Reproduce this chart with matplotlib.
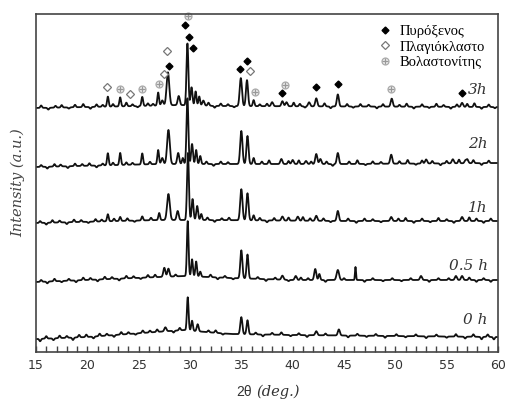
import numpy as np
import matplotlib
matplotlib.use("Agg")
import matplotlib.pyplot as plt
from matplotlib.ticker import MultipleLocator
from matplotlib.lines import Line2D

# XRD patterns, y in pixel-like units (offset stacked)
labels = ["0 h", "0.5 h", "1h", "2h", "3h"]

# background anchors (2theta, level)
base_0h = ([15, 20, 28, 29.5, 31.5, 34, 40, 60], [13, 15, 21, 22, 20, 18, 17, 15])
base_05h = ([15, 27, 29.5, 34, 40, 60], [70, 75, 76, 74, 72, 72])
base_1h = ([15, 27, 32, 45, 60], [129, 132, 132, 131, 131])
base_2h = ([15, 27, 33, 45, 60], [185, 188, 188, 188, 189])
base_3h = ([15, 25, 29, 33, 60], [244, 246, 247, 246, 245])

# peaks (position, height, width)
peaks_0h = [(27.6, 4, .1), (29.78, 33, .08), (30.2, 10, .08), (30.75, 7, .09), (35.0, 17, .1),
            (35.6, 14, .09), (42.3, 4, .1), (44.5, 6, .1)]
peaks_05h = [(27.5, 9, .1), (27.9, 8, .1), (29.78, 55, .08), (30.2, 17, .08), (30.6, 15, .08),
             (31.0, 5, .08), (35.0, 28, .1), (35.6, 24, .09), (39.0, 4, .1), (40.3, 4, .1),
             (42.2, 11, .1), (42.6, 6, .08), (44.4, 10, .12), (46.12, 13, .05), (52.5, 4, .1),
             (55.9, 4, .1), (56.5, 4, .1)]
peaks_1h = [(22.0, 7, .08), (23.2, 4, .08), (25.35, 4, .08), (27.0, 7, .08), (27.9, 26, .13),
            (28.8, 9, .1), (29.8, 67, .09), (30.25, 21, .09), (30.7, 14, .09), (31.1, 6, .08),
            (35.0, 31, .11), (35.6, 27, .1), (36.2, 5, .08), (39.0, 4, .1), (40.5, 4, .1),
            (42.3, 5, .1), (44.4, 10, .1), (49.6, 4, .1), (56.5, 4, .1)]
peaks_2h = [(22.0, 12, .08), (23.2, 12, .08), (25.35, 11, .08), (26.9, 14, .08), (27.3, 6, .1),
            (27.9, 34, .13), (28.85, 11, .1), (29.3, 6, .08), (29.75, 66, .09), (30.2, 20, .09),
            (30.6, 14, .08), (31.0, 8, .08), (35.0, 33, .11), (35.6, 28, .1), (36.2, 6, .08),
            (38.9, 5, .1), (40.0, 4, .1), (41.3, 3, .1), (42.3, 10, .1), (42.7, 5, .1),
            (44.4, 11, .1), (49.6, 9, .1), (53.0, 4, .1), (55.6, 4, .1), (57.0, 4, .1)]
peaks_3h = [(22.0, 10, .08), (23.2, 9, .08), (25.35, 9, .08), (26.9, 13, .08), (27.3, 5, .1),
            (27.85, 33, .13), (28.9, 9, .1), (29.75, 62, .09), (30.15, 18, .09), (30.55, 14, .08),
            (30.9, 9, .08), (31.3, 5, .1), (34.95, 28, .11), (35.55, 26, .1), (36.2, 6, .08),
            (38.0, 4, .1), (39.0, 5, .1), (39.4, 4, .1), (41.6, 4, .1), (42.3, 8, .1),
            (44.4, 12, .1), (49.65, 8, .1), (56.5, 4, .1)]

# small wiggles of the background (position, amplitude)
bumps_0h = [(15.4, -2), (16.0, 2), (16.7, -1.5), (17.3, 2), (18.0, 1.5), (18.6, -2), (19.2, 2),
            (19.9, 2), (20.6, -1.5), (21.2, 2), (21.9, 1.5), (22.6, -1.5), (23.3, 2), (24.0, 1.5),
            (24.7, -1), (25.4, 2), (26.1, 1.5), (26.8, 2), (28.4, -1.5), (29.0, 2), (31.8, 1.5),
            (32.5, 2), (33.2, -1), (36.4, 1.5), (37.1, -1.5), (38.0, 1.5), (38.9, 2), (39.8, -1),
            (40.6, 1.5), (41.4, -1.5), (43.2, 1.5), (45.4, -1.5), (46.3, 1.5), (47.2, -1),
            (48.1, 1.5), (49.0, -1.5), (50.1, 1.5), (51.0, -1), (52.0, 1.5), (53.0, -1.5),
            (54.0, 1.5), (55.0, -1), (55.9, 2), (56.8, -1.5), (57.6, 2), (58.4, -2), (59.0, 2),
            (59.6, -2)]
bumps_05h = [(15.5, 1.5), (16.1, -1.5), (16.8, 2), (17.5, -1), (18.2, 1.5), (18.9, -1.5),
             (19.6, 2), (20.3, 1.5), (21.0, -1.5), (21.7, 2), (22.4, 1.5), (23.1, -1.5),
             (23.8, 2), (24.5, 1.5), (25.2, -1), (25.9, 2), (26.6, 2), (28.6, 1.5), (32.0, 2),
             (32.7, -1.5), (33.4, 1.5), (34.2, -1), (36.6, 1.5), (37.4, -1.5), (38.3, 1.5),
             (39.6, -1), (40.8, 2), (41.5, 1.5), (43.2, -1.5), (45.0, 1.5), (47.0, -1.5),
             (47.8, 1.5), (48.8, -1), (49.7, 1.5), (50.6, -1), (51.5, 1.5), (53.3, -1.5),
             (54.2, 1.5), (55.2, 1.5), (57.2, 2), (57.9, -1.5), (58.6, 1.5), (59.3, -1.5)]
bumps_1h = [(15.4, 1.5), (16.0, -1.5), (16.6, 2), (17.3, 1.5), (18.0, -1.5), (18.7, 2),
            (19.4, 1.5), (20.1, -1), (20.8, 2), (21.4, 1.5), (22.6, 2), (23.9, 2), (24.6, -1),
            (26.2, 2), (31.7, 2), (32.4, -1.5), (33.1, 1.5), (33.8, 2), (36.8, 2), (37.5, -1.5),
            (38.2, 2), (39.6, 2.5), (41.0, 3), (41.7, 2), (43.0, 2), (43.7, -1), (45.4, 2),
            (46.2, -1.5), (47.0, 2), (47.8, 1.5), (48.6, -1), (50.3, 2), (51.0, 2.5), (51.8, -1.5),
            (52.6, 2), (53.4, -1), (54.2, 2.5), (55.0, 1.5), (55.7, -1.5), (57.2, 3), (57.9, 2),
            (58.6, -1.5), (59.3, 2)]
bumps_2h = [(15.5, 1.5), (16.1, -1.5), (16.8, 2), (17.4, 1.5), (18.1, -1.5), (18.8, 2),
            (19.5, 1.5), (20.2, 2), (20.9, -1.5), (21.5, 1.5), (22.5, 2), (23.8, 2), (24.4, 1.5),
            (26.1, 2), (31.6, 2), (32.3, -1.5), (33.0, 2), (33.7, 1.5), (37.0, 2), (37.7, 3),
            (39.6, 2.5), (40.6, 3), (41.8, 2), (43.3, 2), (43.9, -1.5), (45.5, 2), (46.3, 3),
            (47.1, -1), (47.8, 2), (48.6, 1.5), (50.4, 2), (51.2, 3), (52.0, -1), (52.6, 2.5),
            (53.6, 2), (54.4, -1.5), (55.0, 2), (56.2, 3), (56.8, 2), (57.6, 2.5), (58.4, -1.5),
            (59.1, 2)]
bumps_3h = [(15.5, 2), (16.2, -1.5), (16.9, 1.5), (17.5, 2), (18.2, -1), (18.8, 2), (19.6, 2.5),
            (20.3, -1.5), (20.9, 2), (21.5, 1.5), (22.5, 2), (23.8, 3), (24.4, 1.5), (24.9, -1),
            (25.9, 2), (26.4, 1.5), (31.8, 2.5), (32.4, -1.5), (33.0, 2), (33.7, 1.5), (34.3, -1),
            (36.8, 1.5), (37.5, 2), (40.1, 3), (40.7, 2), (41.2, -1), (43.1, 2.5), (43.7, -1.5),
            (45.3, 2), (45.9, -1), (46.6, 2), (47.4, 1.5), (48.2, -1.5), (48.8, 2), (50.4, 1.5),
            (51.1, 2.5), (51.8, -1.5), (52.6, 2), (53.3, -1), (54.0, 2.5), (54.7, 1.5),
            (55.4, -1.5), (56.0, 2), (57.0, 2.5), (57.7, 3), (58.4, -1.5), (59.1, 2), (59.7, -1)]

# phase markers on the 3h pattern (2theta, level)
pyroxene = [(27.95, 286), (29.55, 327), (29.93, 315), (30.3, 304), (34.87, 283), (35.52, 291),
            (39.0, 259), (42.27, 265), (44.38, 268), (56.46, 259)]
plagioclase = [(21.95, 265), (24.2, 258), (27.5, 278), (27.8, 301), (35.87, 281)]
wollastonite = [(23.2, 263), (25.3, 263), (26.95, 268), (29.83, 336), (36.3, 260),
                (39.28, 267), (49.58, 263)]
legend_labels = ["Πυρόξενος", "Πλαγιόκλαστο", "Βολαστονίτης"]

# curve label positions (2theta, level)
label_pos = [(59.0, 32), (59.0, 86), (59.0, 144), (59.0, 208), (59.0, 262)]

x = np.arange(15, 60.0001, 0.02)


def pattern(base, peaks, bumps):
    y = np.interp(x, base[0], base[1])
    for p, h, w in peaks:
        y = y + h * np.exp(-0.5 * ((x - p) / w) ** 2)
    for p, h in bumps:
        y = y + 1.2 * h * np.exp(-0.5 * ((x - p) / 0.08) ** 2)
    return y


bases = [base_0h, base_05h, base_1h, base_2h, base_3h]
peak_sets = [peaks_0h, peaks_05h, peaks_1h, peaks_2h, peaks_3h]
bump_sets = [bumps_0h, bumps_05h, bumps_1h, bumps_2h, bumps_3h]

fig = plt.figure(figsize=(5.05, 4.04), dpi=100)
ax = fig.add_axes([36 / 505, 1 - 352 / 404, 462 / 505, 338 / 404])

for b, pk, bm in zip(bases, peak_sets, bump_sets):
    ax.plot(x, pattern(b, pk, bm), color="#111111", lw=1.3)

for (lx, ly), lab in zip(label_pos, labels):
    ax.text(lx, ly, lab, ha="right", va="center", fontsize=11, style="italic",
            family="DejaVu Serif", color="#333333")

pyr_style = dict(ls="none", marker="D", ms=3.5, color="black")
plag_style = dict(ls="none", marker="D", ms=4, mfc="white", mec="#777777", mew=0.9)
woll_ring = dict(ls="none", marker="o", ms=5, mfc="#eeeeee", mec="#aaaaaa", mew=0.9)
woll_plus = dict(ls="none", marker="+", ms=5, color="#999999", mew=0.9)

ax.plot(*zip(*pyroxene), clip_on=False, **pyr_style)
ax.plot(*zip(*plagioclase), clip_on=False, **plag_style)
ax.plot(*zip(*wollastonite), clip_on=False, **woll_ring)
ax.plot(*zip(*wollastonite), clip_on=False, **woll_plus)

handles = [Line2D([], [], **pyr_style), Line2D([], [], **plag_style),
           (Line2D([], [], **woll_ring), Line2D([], [], **woll_plus))]
ax.legend(handles, legend_labels, loc="upper right", bbox_to_anchor=(0.985, 0.985),
          frameon=False, handlelength=0.8, handletextpad=0.6, labelspacing=0.15,
          borderaxespad=0, prop={"family": "Liberation Serif", "size": 10.5})

ax.set_xlim(15, 60)
ax.set_ylim(0, 338)
ax.set_yticks([])
ax.set_xticks(range(15, 61, 5))
ax.xaxis.set_minor_locator(MultipleLocator(1))
ax.tick_params(axis="x", which="both", direction="in", length=4, width=1, color="#444444",
               labelsize=9, labelcolor="#333333", pad=5)
for s in ax.spines.values():
    s.set_color("#444444")
    s.set_linewidth(1.2)

ax.set_ylabel("Intensity (a.u.)", family="DejaVu Serif", style="italic", fontsize=10.5,
              color="#444444", labelpad=8)
fig.text(252 / 505, 1 - 392 / 404, "2θ", ha="right", va="center", fontsize=10,
         family="Liberation Sans", color="#333333")
fig.text(256 / 505, 1 - 392 / 404, "(deg.)", ha="left", va="center", fontsize=10.5,
         family="DejaVu Serif", style="italic", color="#333333")

fig.savefig("out.png", dpi=100)
